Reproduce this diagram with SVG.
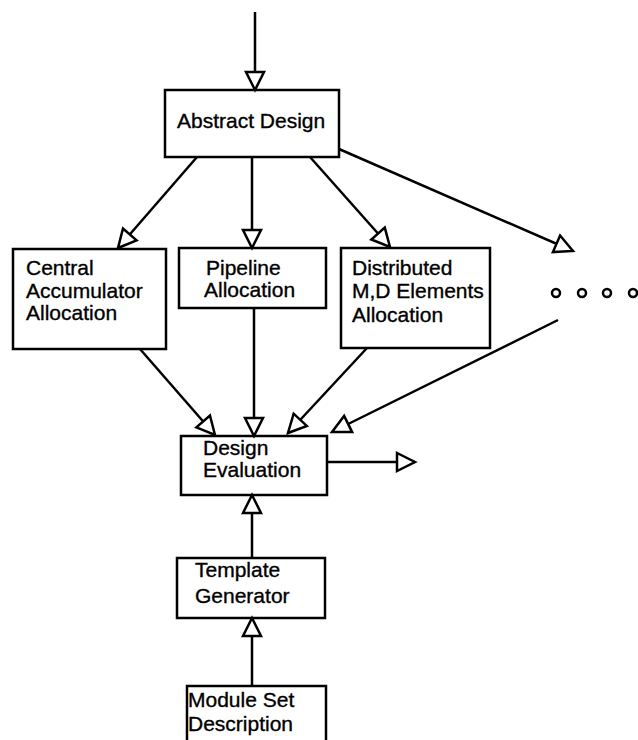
<svg xmlns="http://www.w3.org/2000/svg" width="638" height="740" viewBox="0 0 638 740">
  <style>
    .box { fill: #fff; stroke: #000; stroke-width: 2.5; }
    .lbl { font-family: "Liberation Sans", Arial, sans-serif; font-size: 21px; fill: #000; stroke: #000; stroke-width: 0.35; }
    .edge { stroke: #000; stroke-width: 2.5; fill: none; marker-end: url(#open); }
    .dot { fill: #fff; stroke: #000; stroke-width: 2.5; }
  </style>
  <defs>
    <marker id="open" markerUnits="userSpaceOnUse" markerWidth="26" markerHeight="26" viewBox="-21 -13 26 26" refX="0" refY="0" orient="auto">
      <path d="M0,0 L-18,-9 L-18,9 Z" fill="#fff" stroke="#000" stroke-width="2.5" stroke-linejoin="miter"/>
    </marker>
  </defs>
  <rect width="638" height="740" fill="#fff"/>

  <g id="abstract-design">
    <rect class="box" x="165" y="90" width="174" height="67"/>
    <text class="lbl" x="177" y="128">Abstract Design</text>
  </g>

  <g id="central-accumulator">
    <rect class="box" x="13" y="249" width="153" height="100"/>
    <text class="lbl" x="26" y="275">Central</text>
    <text class="lbl" x="26" y="298">Accumulator</text>
    <text class="lbl" x="26" y="320">Allocation</text>
  </g>

  <g id="pipeline">
    <rect class="box" x="179" y="248" width="147" height="60"/>
    <text class="lbl" x="206" y="275">Pipeline</text>
    <text class="lbl" x="204" y="297">Allocation</text>
  </g>

  <g id="distributed">
    <rect class="box" x="341" y="248" width="149" height="100"/>
    <text class="lbl" x="352" y="275">Distributed</text>
    <text class="lbl" x="352" y="298">M,D Elements</text>
    <text class="lbl" x="352" y="322">Allocation</text>
  </g>

  <g id="more">
    <circle class="dot" cx="556" cy="293" r="4"/>
    <circle class="dot" cx="582" cy="293" r="4"/>
    <circle class="dot" cx="607" cy="293" r="4"/>
    <circle class="dot" cx="633" cy="293" r="4"/>
  </g>

  <g id="design-evaluation">
    <rect class="box" x="181" y="436" width="146" height="59"/>
    <text class="lbl" x="203" y="455">Design</text>
    <text class="lbl" x="203" y="477">Evaluation</text>
  </g>

  <g id="template-generator">
    <rect class="box" x="177" y="558" width="148" height="60"/>
    <text class="lbl" x="195" y="577">Template</text>
    <text class="lbl" x="195" y="603">Generator</text>
  </g>

  <g id="module-set">
    <rect class="box" x="187" y="686" width="139" height="60"/>
    <text class="lbl" x="188" y="707">Module Set</text>
    <text class="lbl" x="188" y="731">Description</text>
  </g>

  <g id="connectors">
    <line class="edge" x1="255" y1="12" x2="255" y2="90"/>
    <line class="edge" x1="197" y1="157" x2="118" y2="248"/>
    <line class="edge" x1="252" y1="157" x2="252" y2="248"/>
    <line class="edge" x1="310" y1="157" x2="390" y2="247"/>
    <line class="edge" x1="339" y1="149" x2="573" y2="251"/>
    <line class="edge" x1="140" y1="349" x2="215" y2="435"/>
    <line class="edge" x1="254" y1="308" x2="254" y2="436"/>
    <line class="edge" x1="367" y1="348" x2="288" y2="433"/>
    <line class="edge" x1="558" y1="320" x2="332" y2="432"/>
    <line class="edge" x1="327" y1="462" x2="415" y2="462"/>
    <line class="edge" x1="252" y1="558" x2="252" y2="495"/>
    <line class="edge" x1="252" y1="686" x2="252" y2="618"/>
  </g>
</svg>
